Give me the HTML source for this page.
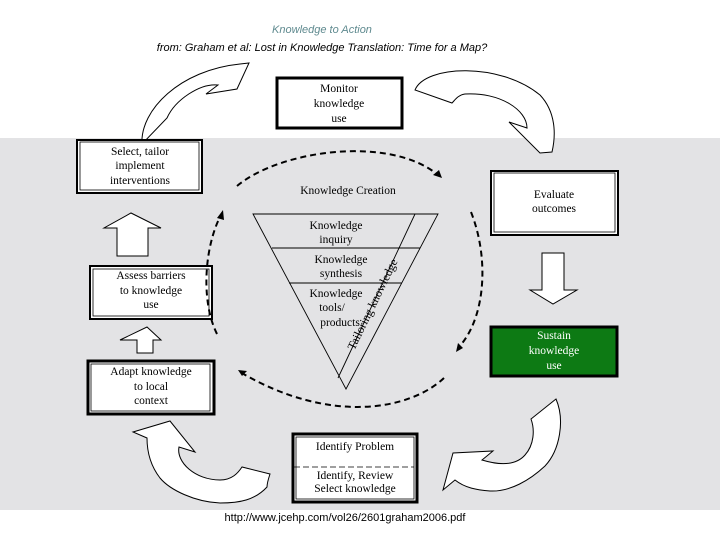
<!DOCTYPE html>
<html><head><meta charset="utf-8"><style>
body{margin:0;background:#fff;}
svg{display:block;font-family:"Liberation Serif",serif;}
.s{font-family:"Liberation Sans",sans-serif;}
</style></head><body>
<svg width="720" height="540" viewBox="0 0 720 540" xmlns="http://www.w3.org/2000/svg">
<rect x="0" y="138" width="720" height="372" fill="#e3e3e5"/>
<text class="s" x="322" y="33" font-size="11" font-style="italic" fill="#5f8a8f" text-anchor="middle">Knowledge to Action</text>
<text class="s" x="322" y="51" font-size="11" font-style="italic" fill="#000" text-anchor="middle">from: Graham et al: Lost in Knowledge Translation: Time for a Map?</text>
<text class="s" x="345" y="521" font-size="11" fill="#000" text-anchor="middle">http://www.jcehp.com/vol26/2601graham2006.pdf</text>

<g fill="#fff" stroke="#000" stroke-width="1">
<!-- curved block arrows -->
<path d="M142,144 C140,110 180,70 240,64 L249,63 L237,89 L206,94 L218,85 C200,83 175,100 167,118 Z"/>
<path d="M415,90 C425,65 500,62 540,95 C556,112 556,135 552,152 L540,153 L509,122 L527,128 C527,110 500,92 465,94 C458,95 455,100 452,103 Z"/>
<path d="M133,432 L170,421 L195,452 L179,447 C176,462 195,480 220,480 C232,480 238,473 242,467 L270,474 C268,480 267,484 267,487 C255,500 240,503 220,503 C195,502 170,490 160,478 C150,465 147,450 147,438 Z"/>
<path d="M556,399 L531,419 C535,430 534,445 525,455 C518,463 505,467 482,460 L493,451 L453,453 L443,490 L455,480 C465,488 477,490 490,491 C510,492 530,480 545,466 C560,450 565,420 556,399 Z"/>
<!-- straight block arrows -->
<path d="M117,256 L117,228 L104,228 L131,213 L161,228 L148,228 L148,256 Z"/>
<path d="M137,353 L137,340 L120,340 L147,327 L161,340 L153,340 L153,353 Z"/>
<path d="M542,253 L564,253 L564,290 L577,290 L553,304 L530,290 L542,290 Z"/>
</g>

<!-- boxes -->
<g fill="#fff" stroke="#000">
<rect x="277" y="78" width="125" height="50" stroke-width="3"/>
<rect x="77" y="140" width="125" height="53" stroke-width="2"/>
<rect x="80" y="142" width="119" height="48" stroke-width="0.8"/>
<rect x="491" y="171" width="127" height="64" stroke-width="2"/>
<rect x="494" y="173" width="121" height="59" stroke-width="0.8"/>
<rect x="90" y="266" width="122" height="53" stroke-width="2"/>
<rect x="93" y="269" width="116" height="47" stroke-width="0.8"/>
<rect x="88" y="361" width="126" height="53" stroke-width="3"/>
<rect x="91" y="364" width="119" height="47" stroke-width="0.8"/>
<rect x="293" y="434" width="124" height="68" stroke-width="3"/>
<rect x="296" y="437" width="118" height="62" stroke-width="0.8"/>
</g>
<line x1="294" y1="467" x2="414" y2="467" stroke="#000" stroke-width="0.8" stroke-dasharray="6,3"/>
<rect x="491" y="327" width="126" height="49" fill="#0d7a14" stroke="#000" stroke-width="3"/>

<!-- triangle -->
<g fill="none" stroke="#000" stroke-width="0.9">
<path d="M253,214 L438,214 L346,389 Z"/>
<line x1="272" y1="248" x2="420" y2="248"/>
<line x1="289" y1="283" x2="402" y2="283"/>
<line x1="415" y1="214" x2="338" y2="378"/>
</g>
<text x="376" y="306" font-size="12" transform="rotate(-64 376 306)" text-anchor="middle">Tailoring knowledge</text>

<!-- dashed arcs -->
<g fill="none" stroke="#000" stroke-width="2" stroke-dasharray="6,4">
<path d="M237,186 C280,150 390,135 438,175"/>
<path d="M217,334 C200,300 205,245 221,215"/>
<path d="M471,212 C490,260 485,320 458,348"/>
<path d="M444,378 C410,410 330,425 240,372"/>
</g>
<g fill="#000">
<path d="M442,178 L433,175 L439,170 Z"/>
<path d="M223,210 L224,220 L217,218 Z"/>
<path d="M456,352 L458,343 L463,348 Z"/>
<path d="M238,370 L247,371 L242,376 Z"/>
</g>

<!-- text -->
<g font-size="11.5" text-anchor="middle" fill="#000">
<text x="339" y="92">Monitor</text><text x="339" y="107">knowledge</text><text x="339" y="122">use</text>
<text x="140" y="155">Select, tailor</text><text x="140" y="169">implement</text><text x="140" y="184">interventions</text>
<text x="554" y="198">Evaluate</text><text x="554" y="212">outcomes</text>
<text x="151" y="279">Assess barriers</text><text x="151" y="294">to knowledge</text><text x="151" y="308">use</text>
<text x="151" y="375">Adapt knowledge</text><text x="151" y="390">to local</text><text x="151" y="404">context</text>
<text x="355" y="450">Identify Problem</text>
<text x="355" y="479">Identify, Review</text><text x="355" y="492">Select knowledge</text>
<text x="348" y="194">Knowledge Creation</text>
<text x="336" y="229">Knowledge</text><text x="336" y="243">inquiry</text>
<text x="341" y="263">Knowledge</text><text x="341" y="277">synthesis</text>
<text x="336" y="297">Knowledge</text><text x="332" y="311">tools/</text><text x="340" y="326">products</text>
<g fill="#fff"><text x="554" y="339">Sustain</text><text x="554" y="354">knowledge</text><text x="554" y="369">use</text></g>
</g>
</svg>
</body></html>
